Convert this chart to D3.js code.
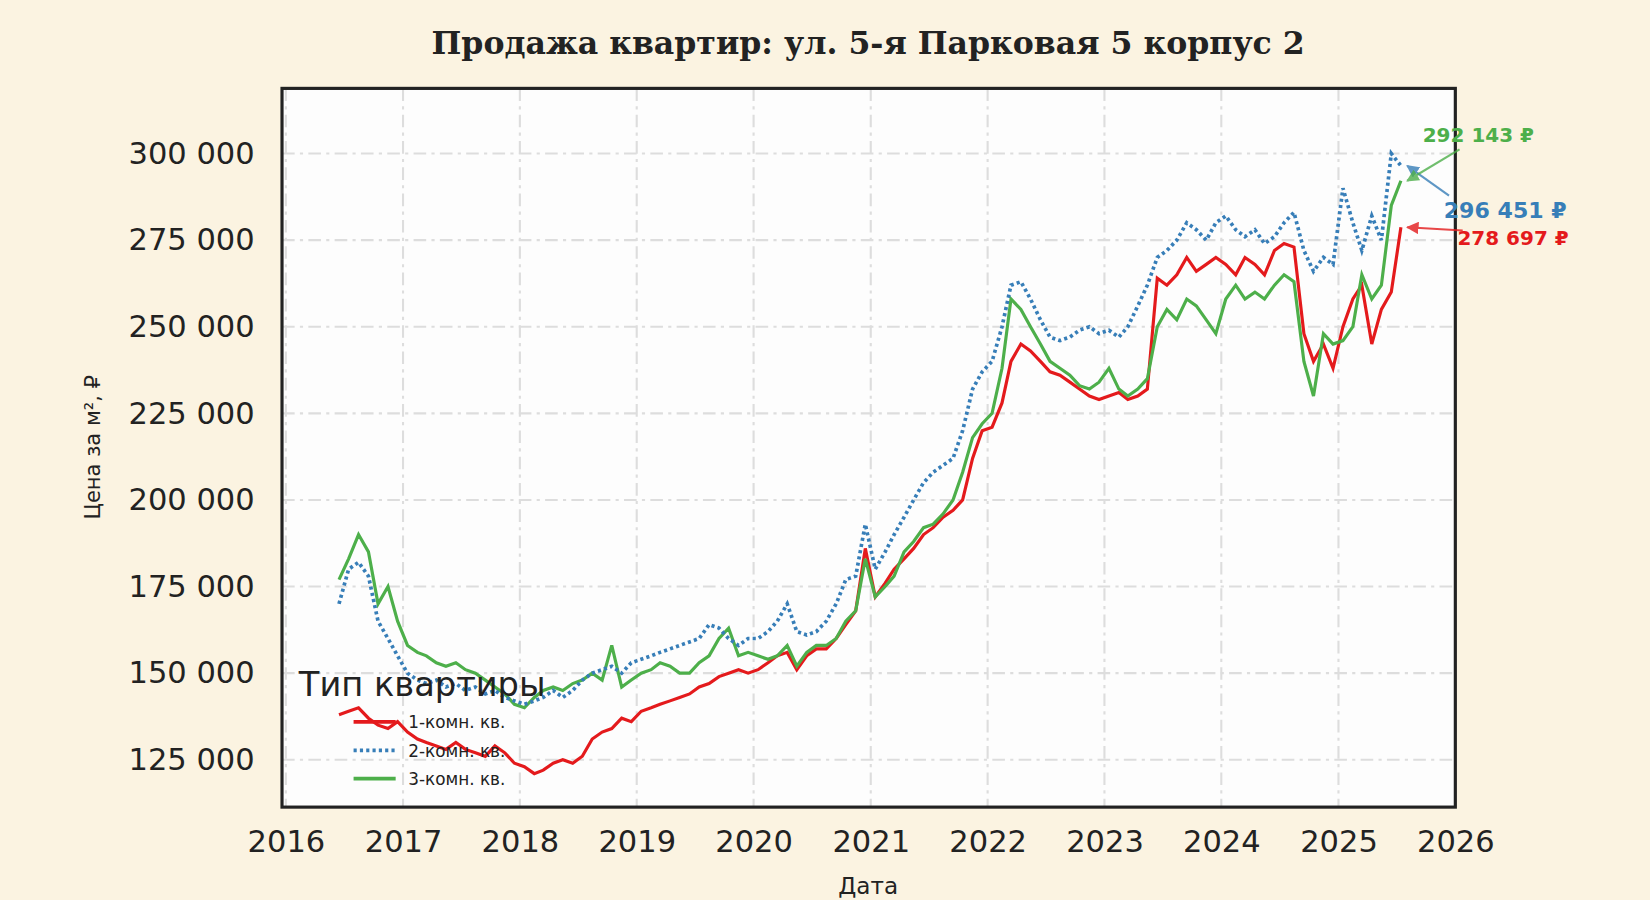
<!DOCTYPE html>
<html><head><meta charset="utf-8">
<script src="https://cdn.jsdelivr.net/npm/d3@7"></script>
<style>body{margin:0;background:#fbf3e1;}svg{font-family:"DejaVu Sans",sans-serif;}</style>
</head><body><svg id="c" width="1650" height="900"></svg>
<script>
const startMonth = "2016-06";
const red = [138,139,140,137,135,134,136, 133,131,130,129,128,130,128,127,126,129,127,124, 123,121,122,124,125,124,126,131,133,134,137,136, 139,140,141,142,143,144,146,147,149,150,151,150, 151,153,155,156,151,155,157,157,160,164,168,186, 172,176,180,183,186,190,192,195,197,200,212,220, 221,228,240,245,243,240,237,236,234,232,230,229, 230,231,229,230,232,264,262,265,270,266,268,270, 268,265,270,268,265,272,274,273,248,240,245,238, 250,258,262,245,255,260,278.697];
const blue = [170,180,182,178,165,160,155, 150,148,147,148,146,147,145,146,144,145,143,142, 141,142,143,145,143,145,148,150,151,152,150,153, 154,155,156,157,158,159,160,164,163,160,158,160, 160,162,165,170,162,161,162,165,170,177,178,193, 180,185,190,195,200,205,208,210,212,220,232,237, 240,250,262,263,258,252,247,246,247,249,250,248, 249,247,250,256,262,270,272,275,280,278,275,280, 282,278,276,278,274,276,280,283,272,266,270,268, 290,280,272,282,275,300,296.451];
const green = [177,183,190,185,170,175,165, 158,156,155,153,152,153,151,150,148,146,144,141, 140,143,145,146,145,147,148,150,148,158,146,148, 150,151,153,152,150,150,153,155,160,163,155,156, 155,154,155,158,152,156,158,158,160,165,168,183, 172,175,178,185,188,192,193,196,200,208,218,222, 225,238,258,255,250,245,240,238,236,233,232,234, 238,232,230,232,235,250,255,252,258,256,252,248, 258,262,258,260,258,262,265,263,240,230,248,245, 246,250,265,258,262,285,292.143];
const seriesNames = ["1-комн. кв.","2-комн. кв.","3-комн. кв."];
const colors = ["#e41a1c","#377eb8","#4daf4a"];
const lastLabels = ["278 697 ₽","296 451 ₽","292 143 ₽"];
const yTicks = [125000,150000,175000,200000,225000,250000,275000,300000];
const xTicks = [2016,2017,2018,2019,2020,2021,2022,2023,2024,2025,2026];

const svg0 = d3.select("#c");
const svg = svg0.append("g").attr("transform","scale(1.0523)");
const L=268,R=1383,T=84,B=767;
const x = d3.scaleTime().domain([new Date(2015,11,20), new Date(2026,0,1)]).range([L,R]);
const y = d3.scaleLinear().domain([111330,318800]).range([B,T]);
const s0 = d3.timeParse("%Y-%m")(startMonth);
const toPts = arr => arr.map((v,i)=>({d:d3.timeDay.offset(d3.timeMonth.offset(s0,i),14), v:v*1000}));
const data = [red,blue,green].map(toPts);

svg.append("rect").attr("x",L).attr("y",T).attr("width",R-L).attr("height",B-T).attr("fill","#fdfdfd");
const g = svg.append("g");
yTicks.forEach(t=>g.append("line").attr("x1",L).attr("x2",R).attr("y1",y(t)).attr("y2",y(t)).attr("stroke","#dddddd").attr("stroke-width",2).attr("stroke-dasharray","12,5,3,5"));
xTicks.forEach(t=>g.append("line").attr("x1",x(new Date(t,0,1))).attr("x2",x(new Date(t,0,1))).attr("y1",T).attr("y2",B).attr("stroke","#dddddd").attr("stroke-width",2).attr("stroke-dasharray","12,5,3,5"));

const line = d3.line().x(d=>x(d.d)).y(d=>y(d.v));
const dashes=[null,"3,3",null];
[0,2,1].forEach(i=>{
  svg.append("path").datum(data[i]).attr("d",line).attr("fill","none").attr("stroke",colors[i]).attr("stroke-width",i==1?3.5:3).attr("stroke-dasharray",dashes[i]);
});
svg.append("rect").attr("x",L).attr("y",T).attr("width",R-L).attr("height",B-T).attr("fill","none").attr("stroke","#222").attr("stroke-width",3);

const yAxis = svg.append("g").attr("transform",`translate(${L},0)`).call(d3.axisLeft(y).tickValues(yTicks).tickSize(0).tickPadding(26).tickFormat(d=>d3.format(",")(d).replace(/,/g," ")));
const xAxis = svg.append("g").attr("transform",`translate(0,${B})`).call(d3.axisBottom(x).tickValues(xTicks.map(t=>new Date(t,0,1))).tickSize(0).tickPadding(22).tickFormat(d3.timeFormat("%Y")));
[yAxis,xAxis].forEach(a=>{a.select(".domain").remove();a.selectAll("text").attr("font-size",29).attr("fill","#222").attr("font-family","DejaVu Sans");});

svg.append("text").attr("x",825).attr("y",51).attr("text-anchor","middle").attr("font-family","DejaVu Serif").attr("font-weight","bold").attr("font-size",30).attr("fill","#222").text("Продажа квартир: ул. 5-я Парковая 5 корпус 2");
svg.append("text").attr("x",825).attr("y",850).attr("text-anchor","middle").attr("font-size",22).attr("fill","#222").text("Дата");
svg.append("text").attr("transform","translate(95,425) rotate(-90)").attr("text-anchor","middle").attr("font-size",20).attr("fill","#222").text("Цена за м², ₽");

svg.append("text").attr("x",284).attr("y",661).attr("font-size",32).attr("fill","#222").text("Тип квартиры");
seriesNames.forEach((n,i)=>{
  const yy=686+i*27;
  svg.append("line").attr("x1",336).attr("x2",376).attr("y1",yy).attr("y2",yy).attr("stroke",colors[i]).attr("stroke-width",3.5).attr("stroke-dasharray",dashes[i]);
  svg.append("text").attr("x",388).attr("y",yy+6).attr("font-size",16).attr("fill","#222").text(n);
});

const ann=[{tx:1385,ty:226,fs:19},{tx:1372,ty:200,fs:21},{tx:1352,ty:128,fs:19}];
svg.append("defs").selectAll("marker").data(colors).join("marker").attr("id",(d,i)=>"m"+i).attr("viewBox","0 0 10 10").attr("refX",9).attr("refY",5).attr("markerWidth",6).attr("markerHeight",6).attr("orient","auto")
  .append("path").attr("d","M0,0L10,5L0,10z").attr("fill",d=>d);
data.forEach((ser,i)=>{
  const p=ser[ser.length-1], a=ann[i];
  const ex=x(p.d)+6, ey=y(p.v);
  const sx = i==2? a.tx+35 : a.tx+5, sy = i==2? a.ty+14 : a.ty-(i==1?14:7);
  svg.append("line").attr("x1",sx).attr("y1",sy).attr("x2",ex).attr("y2",ey).attr("stroke",colors[i]).attr("stroke-width",2).attr("opacity",0.8).attr("marker-end",`url(#m${i})`);
  svg.append("text").attr("x",a.tx).attr("y",a.ty+7).attr("font-size",a.fs).attr("font-weight","bold").attr("fill",colors[i]).text(lastLabels[i]);
});
</script></body></html>
